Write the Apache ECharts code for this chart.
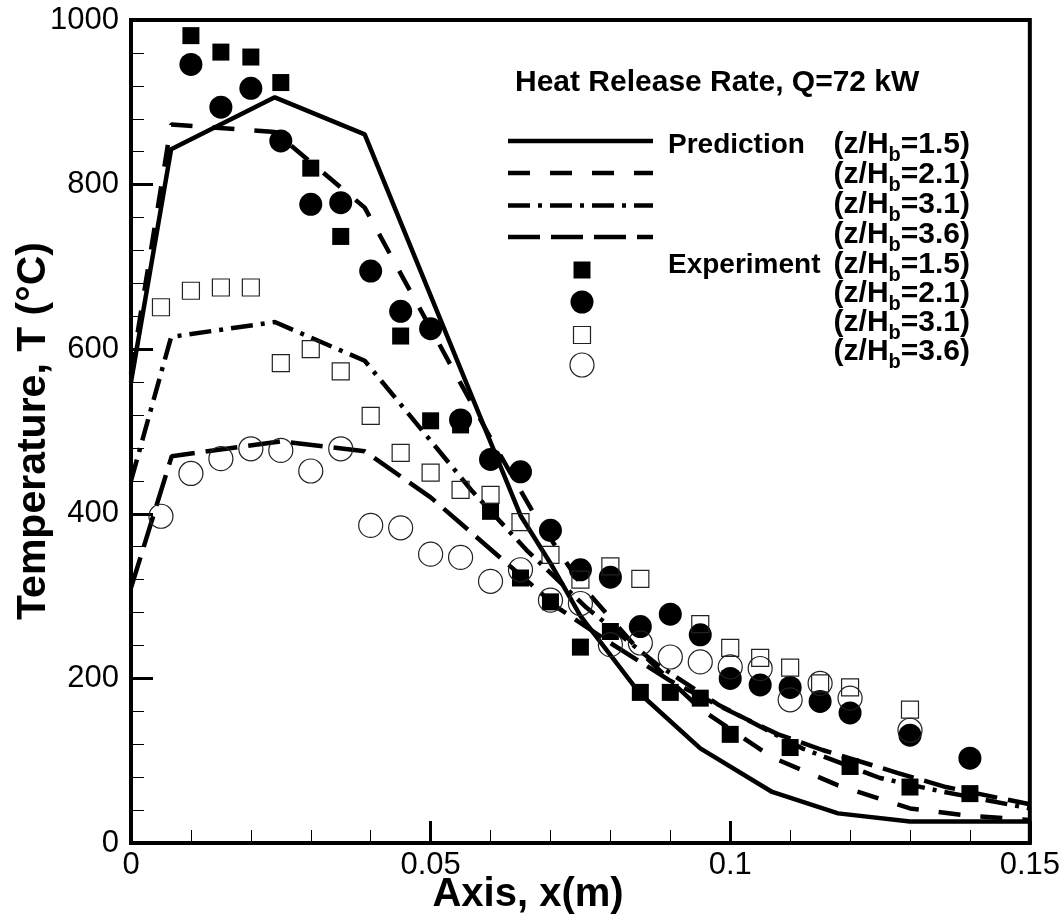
<!DOCTYPE html>
<html>
<head>
<meta charset="utf-8">
<script src="https://cdn.jsdelivr.net/npm/echarts@6/dist/echarts.min.js"></script>
<style>
html,body{margin:0;padding:0;background:#fff;}
#chart{width:1063px;height:915px;}
</style>
</head>
<body>
<div id="chart"></div>
<script>
// ---------- DATA ----------
const xTicks = [0, 0.05, 0.1, 0.15];
const yTicks = [0, 200, 400, 600, 800, 1000];

// Prediction lines [x, T]
const pred15 = [[0,560],[0.0067,843],[0.024,906],[0.039,861],[0.065,398],[0.07,340],[0.075,276],[0.085,181],[0.095,115],[0.107,62],[0.118,36],[0.13,26],[0.15,26]];
const pred21 = [[0,570],[0.0067,873],[0.024,864],[0.039,772],[0.06,492],[0.067,403],[0.075,315],[0.085,232],[0.095,163],[0.107,104],[0.118,70],[0.13,42],[0.14,33],[0.15,28]];
const pred31 = [[0,440],[0.0067,615],[0.024,633],[0.039,586],[0.057,427],[0.066,356],[0.076,286],[0.0876,218],[0.098,168],[0.112,115],[0.125,79],[0.135,63],[0.15,42]];
const pred36 = [[0,310],[0.0068,470],[0.025,488],[0.039,476],[0.05,420],[0.06,357],[0.0665,316],[0.071,287],[0.08,243],[0.09,197],[0.1,160],[0.108,132],[0.1154,113],[0.128,85],[0.136,68],[0.15,47]];

// Experiment points [x, T]
const exp15 = [[0.01,981],[0.015,961],[0.02,955],[0.025,924],[0.03,820],[0.035,737],[0.045,616],[0.05,513],[0.055,508],[0.06,403],[0.065,322],[0.07,293],[0.075,238],[0.08,257],[0.085,183],[0.09,183],[0.095,176],[0.1,132],[0.11,116],[0.12,93],[0.13,68],[0.14,60]];
const exp21 = [[0.01,946],[0.015,894],[0.02,917],[0.025,853],[0.03,776],[0.035,778],[0.04,695],[0.045,646],[0.05,625],[0.055,514],[0.06,466],[0.065,451],[0.07,380],[0.075,332],[0.08,323],[0.085,263],[0.09,278],[0.095,253],[0.1,200],[0.105,192],[0.11,189],[0.115,172],[0.12,158],[0.13,131],[0.14,103]];
const exp31 = [[0.005,651],[0.01,671],[0.015,675],[0.02,675],[0.025,583],[0.03,600],[0.035,573],[0.04,519],[0.045,474],[0.05,450],[0.055,429],[0.06,423],[0.065,390],[0.07,350],[0.075,320],[0.08,336],[0.085,321],[0.095,266],[0.1,237],[0.105,225],[0.11,213],[0.115,194],[0.12,189],[0.13,162]];
const exp36 = [[0.005,397],[0.01,449],[0.015,467],[0.02,479],[0.025,477],[0.03,452],[0.035,479],[0.04,386],[0.045,383],[0.05,351],[0.055,347],[0.06,318],[0.065,332],[0.07,295],[0.075,291],[0.08,241],[0.085,243],[0.09,226],[0.095,220],[0.1,214],[0.105,212],[0.11,174],[0.115,194],[0.12,176],[0.13,137]];

const titleText = 'Heat Release Rate, Q=72 kW';
const xTitle = 'Axis, x(m)';
const yTitle = 'Temperature, T (°C)';
const legendGroups = ['Prediction', 'Experiment'];
const legendValues = ['1.5','2.1','3.1','3.6','1.5','2.1','3.1','3.6'];

// ---------- STYLE ----------
const FONT = '"Liberation Sans", Arial, Helvetica, sans-serif';
const DASH_21 = [22, 20];
const DASH_31 = [22, 8, 4, 8];
const DASH_36 = [32, 11];

const cv = document.createElement('canvas').getContext('2d');
function tw(t, size, bold) { cv.font = (bold ? 'bold ' : '') + size + 'px ' + FONT; return cv.measureText(t).width; }

const chart = echarts.init(document.getElementById('chart'), null, {renderer: 'canvas'});

function lineSeries(data, dash) {
  return {type: 'line', data: data, symbol: 'none', z: 3,
    lineStyle: {color: '#000', width: 4.5, type: dash || 'solid', cap: 'butt'}};
}
function scatterSeries(data, symbol, size, filled) {
  return {type: 'scatter', data: data, symbol: symbol, symbolSize: size, z: 4,
    itemStyle: filled ? {color: '#000', opacity: 1} : {color: 'rgba(0,0,0,0)', borderColor: '#222', borderWidth: 1.2, opacity: 1}};
}

function txt(x, y, text, size, bold, extra) {
  return Object.assign({type: 'text', x: x, y: y, style: {text: text, font: (bold ? 'bold ' : '') + size + 'px ' + FONT, fill: '#000', verticalAlign: 'middle', textVerticalAlign: 'middle'}}, extra || {});
}

// legend graphics
const graphics = [];
graphics.push(txt(515, 83, titleText, 30, true));
const lineYs = [141, 173, 205.5, 237];
const dashes = [null, DASH_21, DASH_31, DASH_36];
lineYs.forEach((y, i) => {
  graphics.push({type: 'line', shape: {x1: 508, y1: y, x2: 653, y2: y},
    style: {stroke: '#000', lineWidth: 4.5, lineDash: dashes[i], lineCap: 'butt'}});
});
const mkX = 582;
graphics.push({type: 'rect', shape: {x: mkX - 8.5, y: 270 - 8.5, width: 17, height: 17}, style: {fill: '#000'}});
graphics.push({type: 'circle', shape: {cx: mkX, cy: 302, r: 11.5}, style: {fill: '#000'}});
graphics.push({type: 'rect', shape: {x: mkX - 8.5, y: 335 - 8.5, width: 17, height: 17}, style: {fill: 'none', stroke: '#222', lineWidth: 1.2}});
graphics.push({type: 'circle', shape: {cx: mkX, cy: 365, r: 12}, style: {fill: 'none', stroke: '#222', lineWidth: 1.2}});

const rowYs = [145, 175, 205, 235, 265, 294, 323, 352];
graphics.push(txt(668, rowYs[0], legendGroups[0], 28, true));
graphics.push(txt(668, rowYs[4], legendGroups[1], 28, true));
const RIGHT = 970;
legendValues.forEach((v, i) => {
  const a = '(z/H', b = 'b', c = '=' + v + ')';
  const wa = tw(a, 30, true), wb = tw(b, 20, true), wc = tw(c, 30, true);
  const x0 = RIGHT - (wa + wb + wc);
  const y = rowYs[i];
  graphics.push(txt(x0, y, a, 30, true));
  graphics.push(txt(x0 + wa, y + 10, b, 20, true));
  graphics.push(txt(x0 + wa + wb, y, c, 30, true));
});
// axis titles
graphics.push({type: 'text', x: 528, y: 895, style: {text: xTitle, font: 'bold 40px ' + FONT, fill: '#000', align: 'center', textAlign: 'center', verticalAlign: 'middle', textVerticalAlign: 'middle'}});
graphics.push({type: 'text', x: 34, y: 431, rotation: Math.PI / 2, style: {text: yTitle, font: 'bold 41px ' + FONT, fill: '#000', align: 'center', textAlign: 'center', verticalAlign: 'middle', textVerticalAlign: 'middle'}});

const option = {
  backgroundColor: '#fff',
  animation: false,
  grid: {left: 131, right: 33, top: 20, bottom: 72, show: true, borderColor: '#000', borderWidth: 4, backgroundColor: 'transparent'},
  xAxis: {
    type: 'value', min: xTicks[0], max: xTicks[xTicks.length - 1], interval: xTicks[1] - xTicks[0],
    axisLine: {show: true, lineStyle: {color: '#000', width: 4}},
    axisTick: {show: true, inside: true, length: 22, lineStyle: {color: '#000', width: 3}},
    minorTick: {show: true, splitNumber: 5, length: 13, lineStyle: {color: '#000', width: 1}},
    splitLine: {show: false},
    axisLabel: {color: '#000', fontSize: 31, fontFamily: FONT, margin: 7, formatter: v => String(v)}
  },
  yAxis: {
    type: 'value', min: yTicks[0], max: yTicks[yTicks.length - 1], interval: yTicks[1] - yTicks[0],
    axisLine: {show: true, lineStyle: {color: '#000', width: 4}},
    axisTick: {show: true, inside: true, length: 22, lineStyle: {color: '#000', width: 3}},
    minorTick: {show: true, splitNumber: 5, length: 13, lineStyle: {color: '#000', width: 1}},
    splitLine: {show: false},
    axisLabel: {color: '#000', fontSize: 31, fontFamily: FONT, margin: 12, formatter: v => String(v)}
  },
  series: [
    lineSeries(pred15, 'solid'),
    lineSeries(pred21, DASH_21),
    lineSeries(pred31, DASH_31),
    lineSeries(pred36, DASH_36),
    scatterSeries(exp15, 'rect', 17, true),
    scatterSeries(exp21, 'circle', 23, true),
    scatterSeries(exp31, 'rect', 17, false),
    scatterSeries(exp36, 'circle', 24, false)
  ],
  graphic: graphics
};
chart.setOption(option);
</script>
</body>
</html>
